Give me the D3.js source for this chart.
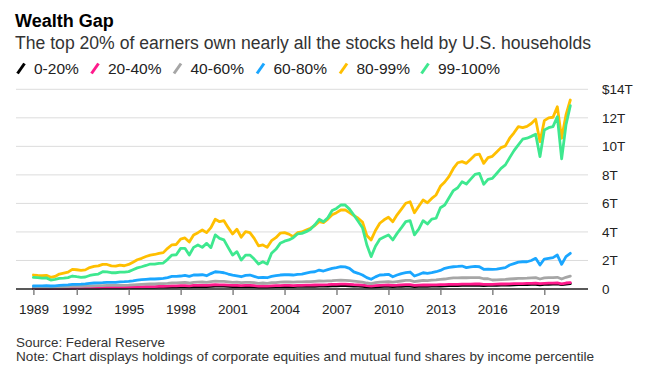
<!DOCTYPE html>
<html>
<head>
<meta charset="utf-8">
<script src="https://cdn.jsdelivr.net/npm/d3@7"></script>
<style>
  html, body { margin: 0; padding: 0; background: #fff; }
  svg { display: block; font-family: "Liberation Sans", Arial, sans-serif; }
</style>
</head>
<body>
<svg id="chart" width="648" height="387"></svg>
<script>
// ---- DATA (trillions of dollars, quarterly, 1989 Q3 .. 2020 Q3) ----
const firstYear = 1989, firstQuarter = 3;
const seriesNames = ["0-20%", "20-40%", "40-60%", "60-80%", "80-99%", "99-100%"];
const seriesColors = ["#000000", "#ff1a8c", "#a6a6a6", "#1aa6ff", "#ffbf00", "#3ee88f"];

const p0_20 = [
  0.04, 0.04,
  0.04, 0.04, 0.03, 0.04,  0.04, 0.05, 0.05, 0.06,  0.06, 0.06, 0.06, 0.07,  0.07, 0.07, 0.08, 0.08,
  0.08, 0.08, 0.08, 0.08,  0.09, 0.09, 0.10, 0.11,  0.11, 0.12, 0.12, 0.13,  0.13, 0.14, 0.15, 0.15,
  0.16, 0.16, 0.15, 0.17,  0.17, 0.18, 0.17, 0.19,  0.20, 0.20, 0.20, 0.18,  0.17, 0.18, 0.16, 0.17,
  0.17, 0.16, 0.14, 0.15,  0.14, 0.15, 0.16, 0.17,  0.17, 0.17, 0.17, 0.18,  0.18, 0.18, 0.19, 0.19,
  0.20, 0.20, 0.21, 0.22,  0.22, 0.23, 0.23, 0.22,  0.21, 0.20, 0.18, 0.15,  0.13, 0.15, 0.17, 0.18,
  0.18, 0.17, 0.18, 0.19,  0.20, 0.20, 0.17, 0.18,  0.19, 0.19, 0.20, 0.20,  0.21, 0.22, 0.23, 0.24,
  0.24, 0.25, 0.25, 0.25,  0.26, 0.26, 0.24, 0.25,  0.25, 0.26, 0.27, 0.27,  0.28, 0.29, 0.30, 0.30,
  0.31, 0.32, 0.33, 0.29,  0.32, 0.33, 0.34, 0.36,
  0.30, 0.35, 0.38
];
const p20_40 = [
  0.06, 0.06,
  0.06, 0.06, 0.05, 0.05,  0.06, 0.06, 0.07, 0.08,  0.08, 0.08, 0.09, 0.09,  0.10, 0.10, 0.11, 0.11,
  0.11, 0.11, 0.11, 0.11,  0.12, 0.13, 0.14, 0.15,  0.16, 0.17, 0.17, 0.18,  0.19, 0.20, 0.22, 0.22,
  0.23, 0.24, 0.22, 0.25,  0.26, 0.27, 0.26, 0.28,  0.30, 0.29, 0.29, 0.27,  0.25, 0.26, 0.23, 0.25,
  0.25, 0.23, 0.20, 0.21,  0.20, 0.22, 0.23, 0.24,  0.25, 0.25, 0.24, 0.26,  0.26, 0.27, 0.27, 0.28,
  0.29, 0.29, 0.30, 0.32,  0.33, 0.34, 0.34, 0.32,  0.30, 0.29, 0.27, 0.23,  0.21, 0.24, 0.26, 0.27,
  0.28, 0.26, 0.27, 0.29,  0.30, 0.30, 0.26, 0.27,  0.28, 0.28, 0.29, 0.29,  0.30, 0.31, 0.32, 0.33,
  0.33, 0.34, 0.34, 0.34,  0.35, 0.35, 0.32, 0.33,  0.33, 0.34, 0.35, 0.35,  0.36, 0.37, 0.38, 0.38,
  0.39, 0.40, 0.41, 0.37,  0.40, 0.41, 0.41, 0.43,
  0.36, 0.42, 0.45
];
const p40_60 = [
  0.13, 0.13,
  0.13, 0.14, 0.12, 0.13,  0.14, 0.15, 0.16, 0.18,  0.18, 0.19, 0.20, 0.21,  0.22, 0.23, 0.24, 0.25,
  0.25, 0.25, 0.26, 0.26,  0.27, 0.29, 0.31, 0.33,  0.34, 0.35, 0.35, 0.37,  0.38, 0.40, 0.43, 0.43,
  0.45, 0.46, 0.42, 0.47,  0.48, 0.49, 0.47, 0.52,  0.55, 0.54, 0.53, 0.50,  0.46, 0.48, 0.44, 0.46,
  0.47, 0.44, 0.40, 0.42,  0.40, 0.44, 0.45, 0.48,  0.49, 0.49, 0.48, 0.50,  0.50, 0.51, 0.52, 0.54,
  0.56, 0.55, 0.57, 0.58,  0.60, 0.62, 0.61, 0.58,  0.55, 0.52, 0.48, 0.42,  0.38, 0.44, 0.48, 0.50,
  0.52, 0.48, 0.52, 0.56,  0.60, 0.60, 0.52, 0.56,  0.60, 0.58, 0.62, 0.64,  0.68, 0.70, 0.74, 0.78,
  0.78, 0.80, 0.79, 0.80,  0.80, 0.80, 0.72, 0.72,  0.63, 0.64, 0.66, 0.67,  0.70, 0.72, 0.74, 0.75,
  0.76, 0.78, 0.80, 0.70,  0.78, 0.80, 0.80, 0.82,
  0.70, 0.82, 0.90
];
const p60_80 = [
  0.21, 0.22,
  0.22, 0.23, 0.21, 0.22,  0.25, 0.27, 0.29, 0.32,  0.33, 0.34, 0.36, 0.40,  0.42, 0.43, 0.44, 0.46,
  0.47, 0.47, 0.50, 0.51,  0.53, 0.57, 0.62, 0.66,  0.68, 0.70, 0.70, 0.72,  0.74, 0.80, 0.88, 0.89,
  0.91, 0.95, 0.88, 0.98,  0.98, 1.00, 0.93, 1.08,  1.21, 1.18, 1.14, 1.05,  0.98, 0.92, 0.86, 0.95,
  0.98, 0.88, 0.79, 0.82,  0.79, 0.88, 0.93, 0.98,  1.00, 1.00, 0.98, 1.03,  1.05, 1.12, 1.18, 1.21,
  1.33, 1.26, 1.36, 1.45,  1.50, 1.56, 1.55, 1.45,  1.20, 1.10, 0.98, 0.80,  0.68, 0.85, 0.98, 1.00,
  1.03, 0.86, 0.98, 1.08,  1.14, 1.19, 0.91, 1.02,  1.14, 1.10, 1.15, 1.21,  1.30, 1.45, 1.51, 1.56,
  1.58, 1.61, 1.50, 1.55,  1.58, 1.56, 1.38, 1.40,  1.38, 1.40, 1.45, 1.50,  1.68, 1.78, 1.88, 1.91,
  1.91, 2.00, 2.15, 1.68,  2.10, 2.15, 2.20, 2.38,
  1.73, 2.27, 2.50
];
const p80_99 = [
  0.98, 0.95,
  0.93, 0.96, 0.82, 0.88,  1.05, 1.12, 1.18, 1.38,  1.35, 1.31, 1.34, 1.50,  1.58, 1.62, 1.73, 1.72,
  1.62, 1.60, 1.68, 1.63,  1.72, 1.88, 2.05, 2.15,  2.28, 2.38, 2.42, 2.50,  2.55, 2.85, 3.10, 3.12,
  3.50, 3.58, 3.30, 3.79,  3.95, 4.14, 3.95, 4.30,  4.89, 4.72, 4.79, 4.30,  3.86, 4.19, 3.63, 4.02,
  3.95, 3.55, 3.02, 3.09,  2.92, 3.39, 3.60, 3.91,  3.95, 3.85, 3.67, 3.95,  4.00, 4.14, 4.26, 4.45,
  4.72, 4.65, 4.90, 5.20,  5.35, 5.54, 5.55, 5.35,  5.15, 4.96, 4.70, 3.75,  3.44, 4.10, 4.61, 4.85,
  5.03, 4.72, 5.20, 5.60,  6.01, 6.12, 5.35, 5.80,  6.24, 6.05, 6.35, 6.59,  7.20, 7.50, 7.90, 8.45,
  8.85, 8.93, 8.81, 9.10,  9.40, 9.45, 8.81, 9.21,  9.30, 9.60, 9.91, 10.03, 10.57, 10.95, 11.38, 11.31,
  11.40, 11.60, 11.90, 10.33, 11.80, 12.00, 12.04, 12.78,
  10.57, 12.20, 13.25
];
const p99_100 = [
  0.82, 0.80,
  0.76, 0.78, 0.63, 0.68,  0.74, 0.76, 0.80, 0.91,  0.86, 0.82, 0.84, 0.95,  1.00, 1.05, 1.21, 1.20,
  1.14, 1.14, 1.18, 1.19,  1.22, 1.35, 1.48, 1.56,  1.65, 1.75, 1.74, 1.80,  1.82, 2.08, 2.38, 2.40,
  2.85, 2.85, 2.38, 2.92,  3.09, 2.92, 3.20, 2.90,  3.79, 3.55, 3.44, 2.90,  2.38, 2.62, 2.03, 2.38,
  2.38, 2.10, 1.75, 1.91,  1.75, 2.50, 2.78, 3.20,  3.35, 3.44, 3.60, 3.86,  3.90, 4.02, 4.19, 4.50,
  4.89, 4.72, 5.00, 5.50,  5.65, 5.89, 5.89, 5.60,  5.19, 4.75, 4.30, 3.10,  2.27, 3.00, 3.49, 3.65,
  3.79, 3.44, 3.90, 4.30,  4.72, 4.79, 3.79, 4.20,  4.79, 4.56, 4.90, 4.96,  5.70, 5.89, 6.40, 6.90,
  7.10, 7.52, 7.36, 7.70,  8.04, 8.11, 7.34, 7.69,  7.75, 8.10, 8.46, 8.70,  9.21, 9.70, 10.10, 10.50,
  10.57, 10.70, 10.85, 9.28, 11.15, 11.31, 11.38, 12.08,
  9.12, 11.50, 12.85
];
const seriesValues = [p0_20, p20_40, p40_60, p60_80, p80_99, p99_100];

const yTickValues = [0, 2, 4, 6, 8, 10, 12, 14];
const yTickLabels = ["0", "2T", "4T", "6T", "8T", "10T", "12T", "$14T"];
const xTickLabels = ["1989", "1992", "1995", "1998", "2001", "2004", "2007", "2010", "2013", "2016", "2019"];

// ---- quarter dates (decimal year, quarter start) ----
const quarterDates = p80_99.map((_, i) => {
  const q = firstQuarter - 1 + i;
  return firstYear + Math.floor(q / 4) + (q % 4) / 4;
});

// ---- LAYOUT ----
const svg = d3.select("#chart");
const plotLeft = 16, plotRight = 588;
const x = d3.scaleLinear()
  .domain([quarterDates[0], quarterDates[quarterDates.length - 1]])
  .range([33.4, 570.3]);
const y = d3.scaleLinear().domain([0, 14]).range([289, 89.3]);

// Title & subtitle
svg.append("text").attr("x", 15).attr("y", 26.5)
  .attr("font-size", 18).attr("font-weight", "bold").attr("fill", "#000")
  .text("Wealth Gap");
svg.append("text").attr("x", 15).attr("y", 49)
  .attr("font-size", 17.6).attr("fill", "#333")
  .text("The top 20% of earners own nearly all the stocks held by U.S. households");

// Legend
const legendX = [16.5, 90.5, 173, 256, 339, 420.5];
const legend = svg.append("g");
seriesNames.forEach((name, i) => {
  const g = legend.append("g").attr("transform", `translate(${legendX[i]},0)`);
  g.append("line").attr("x1", 1).attr("y1", 73.5).attr("x2", 8).attr("y2", 63.5)
    .attr("stroke", seriesColors[i]).attr("stroke-width", 3);
  g.append("text").attr("x", 17.5).attr("y", 74)
    .attr("font-size", 15.5).attr("fill", "#222").text(name);
});

// Gridlines
svg.append("g").selectAll("line").data(yTickValues.filter(v => v > 0)).join("line")
  .attr("x1", plotLeft).attr("x2", plotRight)
  .attr("y1", d => y(d)).attr("y2", d => y(d))
  .attr("stroke", "#dcdcdc").attr("stroke-width", 1);

// Right axis labels
const yAxis = d3.axisRight(y).tickValues(yTickValues)
  .tickFormat((d, i) => yTickLabels[i]).tickSize(0).tickPadding(0);
svg.append("g").attr("transform", "translate(602,0)").call(yAxis)
  .call(g => g.select(".domain").remove())
  .call(g => g.selectAll("text").attr("font-size", 13.5).attr("fill", "#222")
    .attr("font-family", "Liberation Sans, Arial, sans-serif"));

// Lines
const line = d3.line().x((d, i) => x(quarterDates[i])).y(d => y(d));
svg.append("g").selectAll("path").data(seriesValues).join("path")
  .attr("d", d => line(d))
  .attr("fill", "none")
  .attr("stroke", (d, i) => seriesColors[i])
  .attr("stroke-width", 2.8)
  .attr("stroke-linejoin", "round")
  .attr("stroke-linecap", "round");

// Bottom axis
const xTickPos = xTickLabels.map((t, i) => i === 0 ? quarterDates[0] : +t);
svg.append("line").attr("x1", plotLeft).attr("x2", plotRight)
  .attr("y1", 289).attr("y2", 289).attr("stroke", "#222").attr("stroke-width", 1.3);
const xAxis = d3.axisBottom(x).tickValues(xTickPos)
  .tickFormat((d, i) => xTickLabels[i]).tickSize(6).tickPadding(9);
svg.append("g").attr("transform", "translate(0,289)").call(xAxis)
  .call(g => g.select(".domain").remove())
  .call(g => g.selectAll(".tick line").attr("stroke", "#666").attr("stroke-width", 1.2))
  .call(g => g.selectAll("text").attr("font-size", 13.5).attr("fill", "#222")
    .attr("font-family", "Liberation Sans, Arial, sans-serif"));

// Footer
svg.append("text").attr("x", 16).attr("y", 346.5)
  .attr("font-size", 13.4).attr("fill", "#333").text("Source: Federal Reserve");
svg.append("text").attr("x", 16).attr("y", 360.7)
  .attr("font-size", 13.6).attr("fill", "#333")
  .text("Note: Chart displays holdings of corporate equities and mutual fund shares by income percentile");
</script>
</body>
</html>
